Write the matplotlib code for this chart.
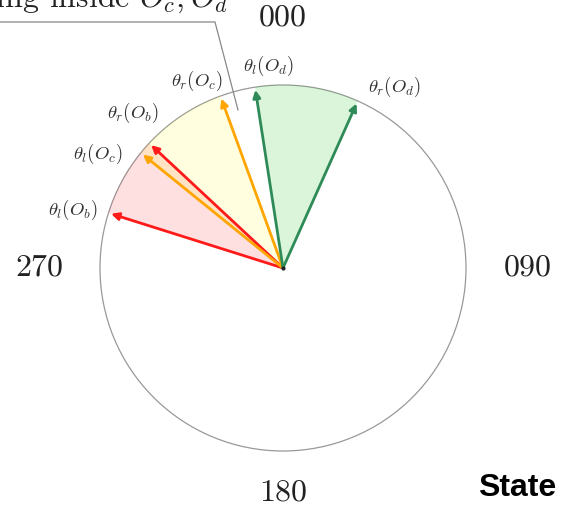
import numpy as np
import matplotlib
matplotlib.use("Agg")
import matplotlib.pyplot as plt
from matplotlib.patches import Circle, Wedge

plt.rcParams['mathtext.fontset'] = 'cm'

# compass bearings (deg, clockwise from north) of the left/right edges of each obstacle
obstacles = ['O_b', 'O_c', 'O_d']
left_bearing = [287.5, 309.0, 351.2]
right_bearing = [313.0, 340.0, 24.1]
edge_colors = ['#ff1a1a', '#ffa500', '#2e8b57']
fill_colors = [('#ff0000', 0.12), ('#ffff00', 0.12), ('#32cd32', 0.18)]

heading_labels = ['000', '090', '180', '270']
heading_angles = [0, 90, 180, 270]

# pixel scale: circle of radius 1 is 183 px, centre at (283, 268) in a 561x515 canvas
S = 183.0
CX, CY = 283.0, 268.0


def px(x, y):
    return ((x - CX) / S, (CY - y) / S)


def bearing_xy(b, r=1.0):
    t = np.radians(b)
    return r * np.sin(t), r * np.cos(t)


fig = plt.figure(figsize=(5.61, 5.15), dpi=100)
ax = fig.add_axes([0, 0, 1, 1])
ax.set_xlim(-CX / S, (561 - CX) / S)
ax.set_ylim(-(515 - CY) / S, CY / S)
ax.set_aspect('equal')
ax.axis('off')

ax.add_patch(Circle((0, 0), 1.0, fill=False, edgecolor='#999999', lw=0.9, zorder=1))

# shaded sectors between the two edges of each obstacle
for lb, rb, (fc, a) in zip(left_bearing, right_bearing, fill_colors):
    t1 = 90 - rb
    t2 = t1 + ((rb - lb) % 360)
    ax.add_patch(Wedge((0, 0), 1.0, t1, t2, facecolor=fc, alpha=a, edgecolor='none', zorder=2))

# edge arrows: red first, orange on top
label_pos = {
    ('l', 'O_b'): (73, 210), ('r', 'O_b'): (133, 113),
    ('l', 'O_c'): (98, 154), ('r', 'O_c'): (197, 81),
    ('l', 'O_d'): (268, 66), ('r', 'O_d'): (394, 87),
}
for name, lb, rb, c in zip(obstacles, left_bearing, right_bearing, edge_colors):
    for side, b in (('l', lb), ('r', rb)):
        tip = bearing_xy(b, 0.985)
        ax.annotate('', xy=tip, xytext=(0, 0),
                    arrowprops=dict(arrowstyle='-|>', color=c, lw=2.0,
                                    mutation_scale=11, shrinkA=0, shrinkB=0),
                    zorder=4)
        tx, ty = px(*label_pos[(side, name)])
        ax.text(tx, ty, r'$\theta_%s(%s)$' % (side, name), fontsize=13.5,
                color='#333333', ha='center', va='center', zorder=5)

ax.plot([0], [0], 'o', color='#222222', ms=2, zorder=6)

# heading numbers around the dial
for lab, ang in zip(heading_labels, heading_angles):
    r = {0: 1.37, 90: 1.34, 180: 1.23, 270: 1.33}[ang]
    x, y = bearing_xy(ang, r)
    ax.text(x, y, lab, fontsize=23, family='cmr10', color='#222222',
            ha='center', va='center')

# callout at top left
x0, y0 = px(0, 22)
x1, y1 = px(215, 22)
x2, y2 = px(238, 110)
ax.plot([x0, x1, x2], [y0, y1, y2], color='#888888', lw=0.9, zorder=3)
tx, ty = px(228, 7)
ax.text(tx, ty, r'Heading inside $O_c, O_d$', fontsize=23, family='cmr10',
        color='#222222', ha='right', va='baseline')

sx, sy = px(517, 488)
ax.text(sx, sy, 'State', fontsize=23, family='Liberation Sans', fontweight='bold',
        color='black', ha='center', va='center')

fig.savefig('out.png', dpi=100)
